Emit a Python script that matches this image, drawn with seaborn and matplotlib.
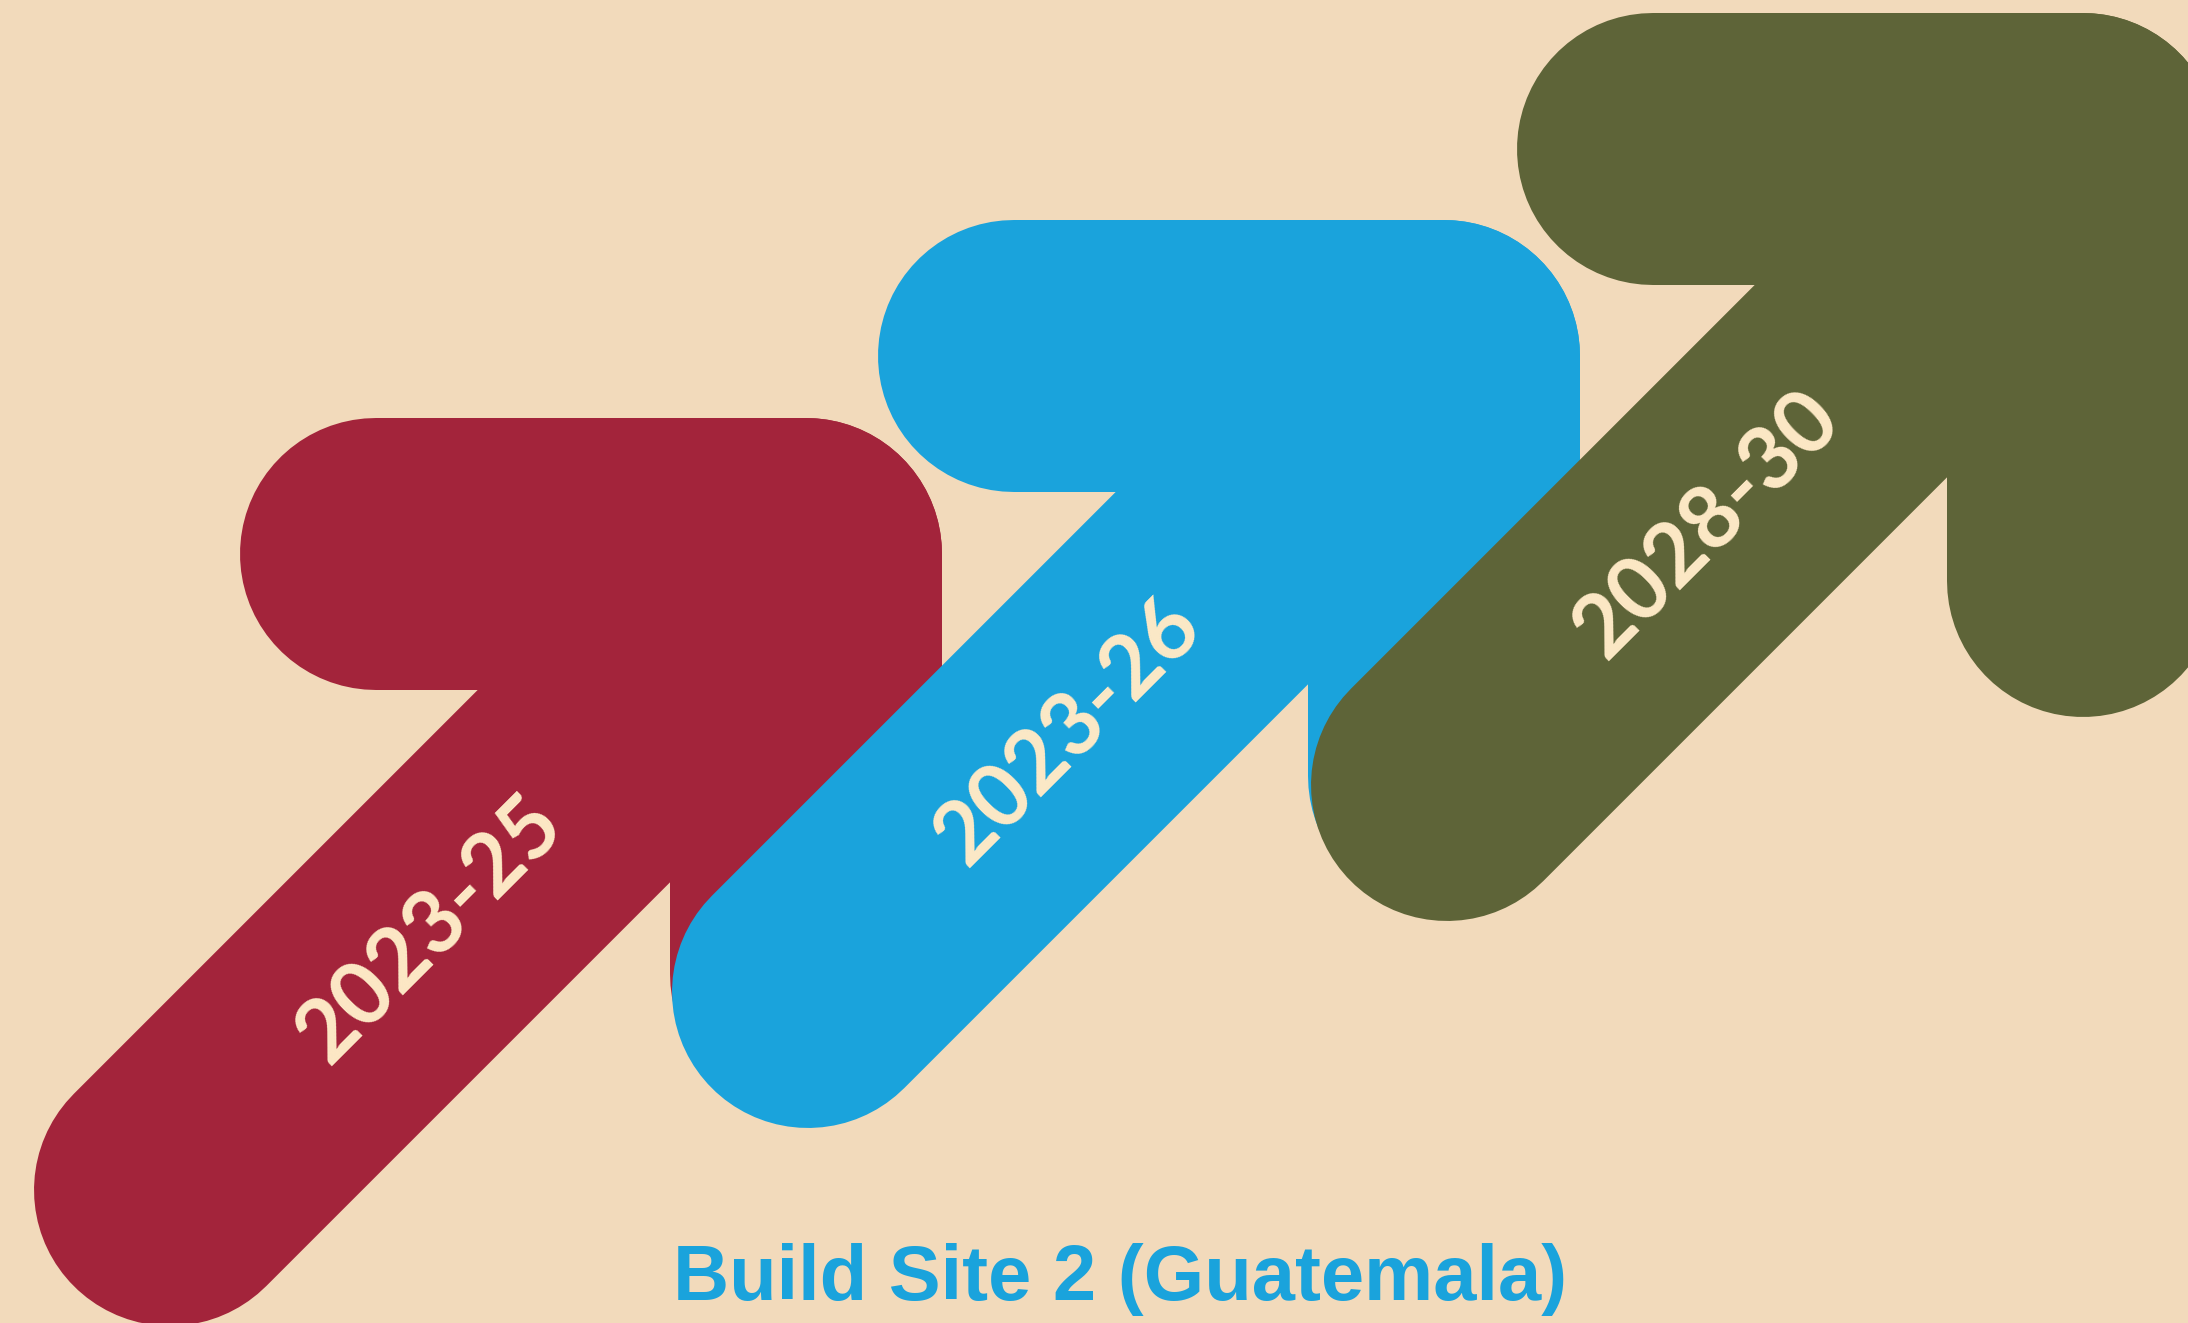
import numpy as np
import pandas as pd
import matplotlib
matplotlib.use("Agg")
import matplotlib.pyplot as plt
import seaborn as sns

# ---- content ----
periods = ["2023-25", "2023-26", "2028-30"]
arrow_colors = ["#A3243B", "#1AA3DC", "#5E6438"]
title = "Build Site 2 (Guatemala)"

# ---- layout (pixel space of a 2188x1323 canvas) ----
corner_x = [806, 1444, 2083]
corner_y = [554, 356, 149]
arm_h = 430
arm_v = [420, 420, 432]
diag_len = 636
label_frac = 0.41

BG = "#F2DABB"
CREAM = "#FDE9C6"
TITLE_BLUE = "#1AA3DC"

W, H, DPI = 2188, 1323, 100
sns.set_theme(style="white")
plt.rcParams["font.family"] = ["Lato", "DejaVu Sans"]

fig = plt.figure(figsize=(W / DPI, H / DPI), dpi=DPI)
fig.patch.set_facecolor(BG)
ax = fig.add_axes([0, 0, 1, 1])
ax.set_facecolor(BG)
ax.set_xlim(0, W)
ax.set_ylim(H, 0)
ax.axis("off")

stroke_px = 272
lw = stroke_px * 72 / DPI

for i, (label, col) in enumerate(zip(periods, arrow_colors)):
    cx, cy = corner_x[i], corner_y[i]
    z = 2 + 2 * i
    top = pd.DataFrame({"x": [cx - arm_h, cx, cx], "y": [cy, cy, cy + arm_v[i]]})
    diag = pd.DataFrame({"x": [cx - diag_len, cx], "y": [cy + diag_len, cy]})
    for df in (top, diag):
        sns.lineplot(data=df, x="x", y="y", sort=False, estimator=None,
                     color=col, linewidth=lw, solid_capstyle="round",
                     solid_joinstyle="round", ax=ax, zorder=z)
    sx, sy = cx - diag_len, cy + diag_len
    tx = sx + label_frac * (cx - sx)
    ty = sy + label_frac * (cy - sy)
    ax.text(tx, ty, label, rotation=45, rotation_mode="anchor",
            ha="center", va="center", fontsize=63, fontweight="bold",
            color=CREAM, zorder=z + 1)

ax.text(1120, 1300, title, ha="center", va="baseline", fontsize=56,
        fontweight="bold", family=["Liberation Sans", "DejaVu Sans"],
        color=TITLE_BLUE, zorder=10)

ax.set_xlim(0, W)
ax.set_ylim(H, 0)
ax.axis("off")
fig.savefig("out.png", dpi=DPI, facecolor=BG)
